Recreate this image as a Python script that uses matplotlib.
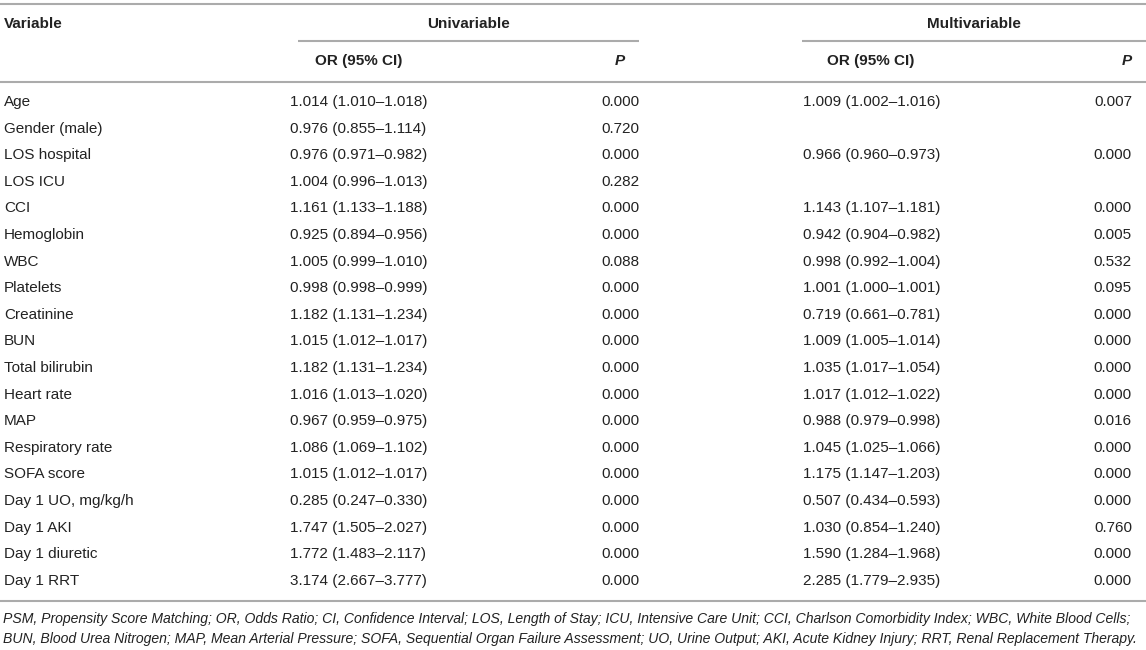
import matplotlib
matplotlib.use("Agg")
import matplotlib.pyplot as plt

variables = ["Age", "Gender (male)", "LOS hospital", "LOS ICU", "CCI", "Hemoglobin", "WBC",
             "Platelets", "Creatinine", "BUN", "Total bilirubin", "Heart rate", "MAP",
             "Respiratory rate", "SOFA score", "Day 1 UO, mg/kg/h", "Day 1 AKI",
             "Day 1 diuretic", "Day 1 RRT"]
uni_or = ["1.014 (1.010–1.018)", "0.976 (0.855–1.114)", "0.976 (0.971–0.982)",
          "1.004 (0.996–1.013)", "1.161 (1.133–1.188)", "0.925 (0.894–0.956)",
          "1.005 (0.999–1.010)", "0.998 (0.998–0.999)", "1.182 (1.131–1.234)",
          "1.015 (1.012–1.017)", "1.182 (1.131–1.234)", "1.016 (1.013–1.020)",
          "0.967 (0.959–0.975)", "1.086 (1.069–1.102)", "1.015 (1.012–1.017)",
          "0.285 (0.247–0.330)", "1.747 (1.505–2.027)", "1.772 (1.483–2.117)",
          "3.174 (2.667–3.777)"]
uni_p = ["0.000", "0.720", "0.000", "0.282", "0.000", "0.000", "0.088", "0.000", "0.000",
         "0.000", "0.000", "0.000", "0.000", "0.000", "0.000", "0.000", "0.000", "0.000",
         "0.000"]
multi_or = ["1.009 (1.002–1.016)", "", "0.966 (0.960–0.973)", "", "1.143 (1.107–1.181)",
            "0.942 (0.904–0.982)", "0.998 (0.992–1.004)", "1.001 (1.000–1.001)",
            "0.719 (0.661–0.781)", "1.009 (1.005–1.014)", "1.035 (1.017–1.054)",
            "1.017 (1.012–1.022)", "0.988 (0.979–0.998)", "1.045 (1.025–1.066)",
            "1.175 (1.147–1.203)", "0.507 (0.434–0.593)", "1.030 (0.854–1.240)",
            "1.590 (1.284–1.968)", "2.285 (1.779–2.935)"]
multi_p = ["0.007", "", "0.000", "", "0.000", "0.005", "0.532", "0.095", "0.000", "0.000",
           "0.000", "0.000", "0.016", "0.000", "0.000", "0.000", "0.760", "0.000", "0.000"]
footnote = ["PSM, Propensity Score Matching; OR, Odds Ratio; CI, Confidence Interval; LOS, Length of Stay; ICU, Intensive Care Unit; CCI, Charlson Comorbidity Index; WBC, White Blood Cells;",
            "BUN, Blood Urea Nitrogen; MAP, Mean Arterial Pressure; SOFA, Sequential Organ Failure Assessment; UO, Urine Output; AKI, Acute Kidney Injury; RRT, Renal Replacement Therapy."]

W, H = 1146, 650
plt.rcParams["font.family"] = ["Liberation Sans", "DejaVu Sans"]
fig = plt.figure(figsize=(W / 100, H / 100), dpi=100)
ax = fig.add_axes([0, 0, 1, 1])
ax.set_xlim(0, W)
ax.set_ylim(H, 0)
ax.axis("off")

fs = 11
tc = "#222222"
lc = "#ababab"
lw = 1.5

# rules
ax.plot([0, W], [4, 4], color=lc, lw=lw, solid_capstyle="butt")
ax.plot([298, 639], [41, 41], color=lc, lw=lw, solid_capstyle="butt")
ax.plot([802, W], [41, 41], color=lc, lw=lw, solid_capstyle="butt")
ax.plot([0, W], [82, 82], color=lc, lw=lw, solid_capstyle="butt")
ax.plot([0, W], [601, 601], color=lc, lw=lw, solid_capstyle="butt")

# headers
ax.text(4, 24, "Variable", fontsize=fs, fontweight="bold", color=tc, va="center", ha="left")
ax.text(469, 24, "Univariable", fontsize=fs, fontweight="bold", color=tc, va="center", ha="center")
ax.text(974, 24, "Multivariable", fontsize=fs, fontweight="bold", color=tc, va="center", ha="center")
ax.text(359, 61, "OR (95% CI)", fontsize=fs, fontweight="bold", color=tc, va="center", ha="center")
ax.text(620, 61, "P", fontsize=fs, fontweight="bold", style="italic", color=tc, va="center", ha="center")
ax.text(871, 61, "OR (95% CI)", fontsize=fs, fontweight="bold", color=tc, va="center", ha="center")
ax.text(1132, 61, "P", fontsize=fs, fontweight="bold", style="italic", color=tc, va="center", ha="right")

y0, dy = 102, 26.6
for i, v in enumerate(variables):
    y = y0 + i * dy
    ax.text(4, y, v, fontsize=fs, color=tc, va="center", ha="left")
    ax.text(290, y, uni_or[i], fontsize=fs, color=tc, va="center", ha="left")
    ax.text(639, y, uni_p[i], fontsize=fs, color=tc, va="center", ha="right")
    ax.text(803, y, multi_or[i], fontsize=fs, color=tc, va="center", ha="left")
    ax.text(1132, y, multi_p[i], fontsize=fs, color=tc, va="center", ha="right")

ax.text(3, 619, footnote[0], fontsize=10.1, style="italic", color=tc, va="center", ha="left")
ax.text(3, 639, footnote[1], fontsize=10.1, style="italic", color=tc, va="center", ha="left")

fig.savefig("out.png", dpi=100)
